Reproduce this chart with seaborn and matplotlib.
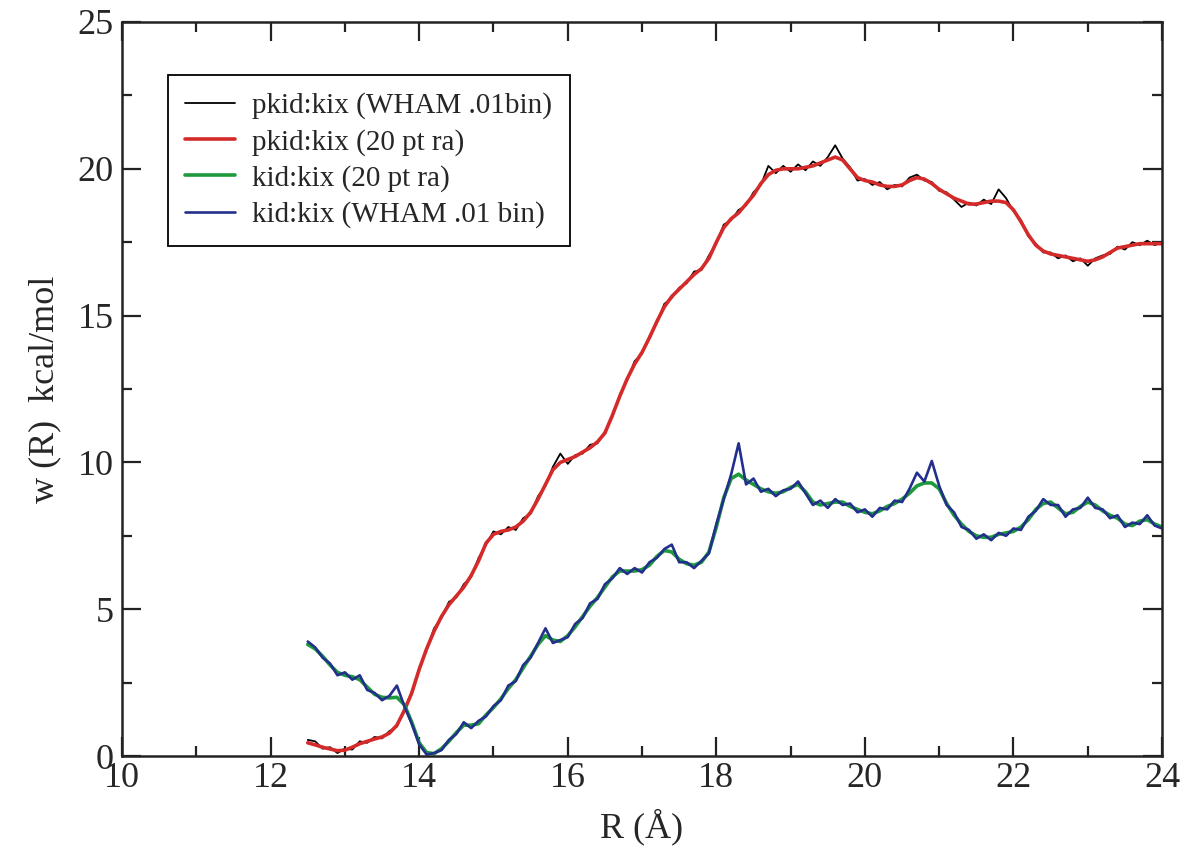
import matplotlib
matplotlib.use("Agg")
import matplotlib.pyplot as plt
import numpy as np
import pandas as pd
import seaborn as sns
from matplotlib.ticker import MultipleLocator

# R grid (Angstrom), 0.1 spacing from 12.5 to 24.0
r_values = np.round(np.arange(125, 241) / 10.0, 2)

# pkid:kix raw WHAM curve
pkid_raw = [0.55, 0.50, 0.25, 0.30, 0.10, 0.25, 0.22, 0.50, 0.45, 0.65,
            0.60, 0.85, 1.00, 1.60, 2.10, 3.00, 3.60, 4.35, 4.70, 5.25,
            5.40, 5.85, 6.10, 6.75, 7.20, 7.65, 7.55, 7.80, 7.70, 8.10,
            8.25, 8.85, 9.20, 9.85, 10.30, 9.95, 10.25, 10.30, 10.60, 10.65,
            11.05, 11.55, 12.30, 12.80, 13.45, 13.70, 14.30, 14.75, 15.40, 15.60,
            15.95, 16.10, 16.50, 16.55, 17.05, 17.45, 18.10, 18.25, 18.60, 18.75,
            19.20, 19.45, 20.10, 19.85, 20.10, 19.90, 20.15, 19.95, 20.25, 20.10,
            20.40, 20.80, 20.35, 20.05, 19.60, 19.65, 19.45, 19.55, 19.30, 19.45,
            19.40, 19.70, 19.80, 19.60, 19.55, 19.25, 19.20, 18.95, 18.70, 18.85,
            18.75, 18.95, 18.80, 19.30, 19.00, 18.55, 18.25, 17.70, 17.45, 17.15,
            17.15, 16.95, 17.05, 16.85, 16.95, 16.70, 16.95, 17.05, 17.10, 17.35,
            17.25, 17.50, 17.40, 17.55, 17.40, 17.50]

# pkid:kix 20 pt running average
pkid_ra = [0.45, 0.38, 0.30, 0.24, 0.18, 0.20, 0.30, 0.42, 0.50, 0.58,
           0.65, 0.78, 1.05, 1.55, 2.15, 2.95, 3.65, 4.25, 4.75, 5.15,
           5.45, 5.75, 6.15, 6.65, 7.25, 7.55, 7.65, 7.70, 7.80, 8.00,
           8.30, 8.75, 9.25, 9.75, 10.00, 10.10, 10.20, 10.35, 10.50, 10.70,
           11.00, 11.60, 12.25, 12.85, 13.35, 13.75, 14.25, 14.80, 15.30, 15.65,
           15.90, 16.15, 16.40, 16.60, 16.95, 17.50, 18.00, 18.30, 18.50, 18.80,
           19.10, 19.50, 19.80, 19.95, 20.00, 20.00, 20.00, 20.05, 20.10, 20.20,
           20.30, 20.40, 20.30, 20.00, 19.70, 19.60, 19.55, 19.45, 19.40, 19.40,
           19.45, 19.60, 19.70, 19.65, 19.50, 19.30, 19.15, 19.00, 18.90, 18.80,
           18.80, 18.85, 18.90, 18.90, 18.85, 18.60, 18.20, 17.75, 17.40, 17.20,
           17.10, 17.05, 17.00, 16.95, 16.90, 16.85, 16.90, 17.00, 17.15, 17.30,
           17.35, 17.40, 17.45, 17.45, 17.45, 17.45]

# kid:kix 20 pt running average
kid_ra = [3.80, 3.65, 3.40, 3.10, 2.85, 2.75, 2.70, 2.60, 2.35, 2.10,
          2.00, 1.98, 2.00, 1.75, 1.15, 0.45, 0.12, 0.08, 0.25, 0.50,
          0.80, 1.05, 1.05, 1.10, 1.40, 1.65, 1.95, 2.30, 2.60, 3.00,
          3.40, 3.80, 4.10, 3.95, 3.90, 4.10, 4.40, 4.75, 5.10, 5.40,
          5.75, 6.10, 6.30, 6.30, 6.30, 6.35, 6.50, 6.80, 7.00, 6.95,
          6.70, 6.55, 6.50, 6.60, 6.95, 7.80, 8.80, 9.45, 9.60, 9.40,
          9.25, 9.10, 9.00, 8.95, 9.00, 9.15, 9.25, 9.00, 8.65, 8.55,
          8.60, 8.65, 8.65, 8.50, 8.40, 8.30, 8.25, 8.35, 8.50, 8.60,
          8.75, 8.95, 9.20, 9.30, 9.30, 9.10, 8.60, 8.20, 7.90, 7.65,
          7.50, 7.45, 7.45, 7.55, 7.60, 7.65, 7.80, 8.05, 8.40, 8.60,
          8.65, 8.45, 8.25, 8.30, 8.50, 8.65, 8.55, 8.35, 8.20, 8.10,
          7.90, 7.85, 8.00, 8.05, 7.90, 7.80]

# kid:kix raw WHAM curve
kid_raw = [3.90, 3.70, 3.35, 3.15, 2.75, 2.85, 2.60, 2.75, 2.25, 2.15,
           1.90, 2.05, 2.40, 1.70, 1.10, 0.40, 0.05, 0.10, 0.20, 0.55,
           0.75, 1.15, 0.95, 1.20, 1.35, 1.70, 1.90, 2.40, 2.55, 3.10,
           3.35, 3.85, 4.35, 3.85, 3.95, 4.05, 4.50, 4.70, 5.20, 5.35,
           5.85, 6.05, 6.40, 6.20, 6.40, 6.25, 6.60, 6.75, 7.05, 7.20,
           6.60, 6.60, 6.40, 6.65, 6.90, 7.90, 8.75, 9.60, 10.65, 9.25,
           9.45, 9.00, 9.10, 8.85, 9.05, 9.10, 9.35, 8.95, 8.55, 8.70,
           8.45, 8.75, 8.55, 8.60, 8.30, 8.40, 8.15, 8.45, 8.40, 8.70,
           8.65, 9.10, 9.65, 9.35, 10.05, 9.20, 8.55, 8.30, 7.80, 7.70,
           7.40, 7.55, 7.35, 7.60, 7.50, 7.75, 7.70, 8.15, 8.35, 8.75,
           8.55, 8.55, 8.15, 8.40, 8.45, 8.80, 8.45, 8.40, 8.10, 8.20,
           7.80, 7.95, 7.90, 8.20, 7.85, 7.75]

series_labels = ["pkid:kix (WHAM .01bin)", "pkid:kix (20 pt ra)",
                 "kid:kix (20 pt ra)", "kid:kix (WHAM .01 bin)"]

sns.set_style("ticks")
plt.rcParams["font.family"] = ["Liberation Serif", "DejaVu Serif"]

fig, ax = plt.subplots(figsize=(11.87, 8.56), dpi=100)
fig.subplots_adjust(left=0.1028, right=0.979, top=0.9743, bottom=0.1168)

styles = [
    (pkid_raw, "black", 1.3),
    (pkid_ra, "#d42a2a", 2.6),
    (kid_ra, "#1e9a3c", 2.6),
    (kid_raw, "#232f8c", 1.9),
]
for (vals, color, lw), label in zip(styles, series_labels):
    df = pd.DataFrame({"R": r_values, "w": vals})
    sns.lineplot(data=df, x="R", y="w", color=color, linewidth=lw, label=label, ax=ax)

ax.set_xlim(10, 24)
ax.set_ylim(0, 25)
ax.xaxis.set_major_locator(MultipleLocator(2))
ax.xaxis.set_minor_locator(MultipleLocator(1))
ax.yaxis.set_major_locator(MultipleLocator(5))
ax.yaxis.set_minor_locator(MultipleLocator(2.5))
ax.tick_params(which="both", direction="in", top=True, right=True, width=1.6, color="#222222")
ax.tick_params(which="major", length=14, labelsize=26)
ax.tick_params(axis="x", which="major", pad=4)
ax.tick_params(axis="y", which="major", pad=6)
ax.tick_params(which="minor", length=7)
for sp in ax.spines.values():
    sp.set_linewidth(1.8)
    sp.set_color("#222222")

ax.set_xlabel("R (Å)", fontsize=26, labelpad=10)
ax.set_ylabel("w (R)  kcal/mol", fontsize=26, labelpad=12)

leg = ax.legend(loc="upper left", bbox_to_anchor=(0.044, 0.928), borderaxespad=0,
                fontsize=21, frameon=True, fancybox=False, framealpha=1,
                edgecolor="black", handlelength=1.7, handletextpad=0.6,
                borderpad=0.6, labelspacing=0.32)
leg.get_frame().set_linewidth(1.3)

fig.savefig("out.png", dpi=100)
